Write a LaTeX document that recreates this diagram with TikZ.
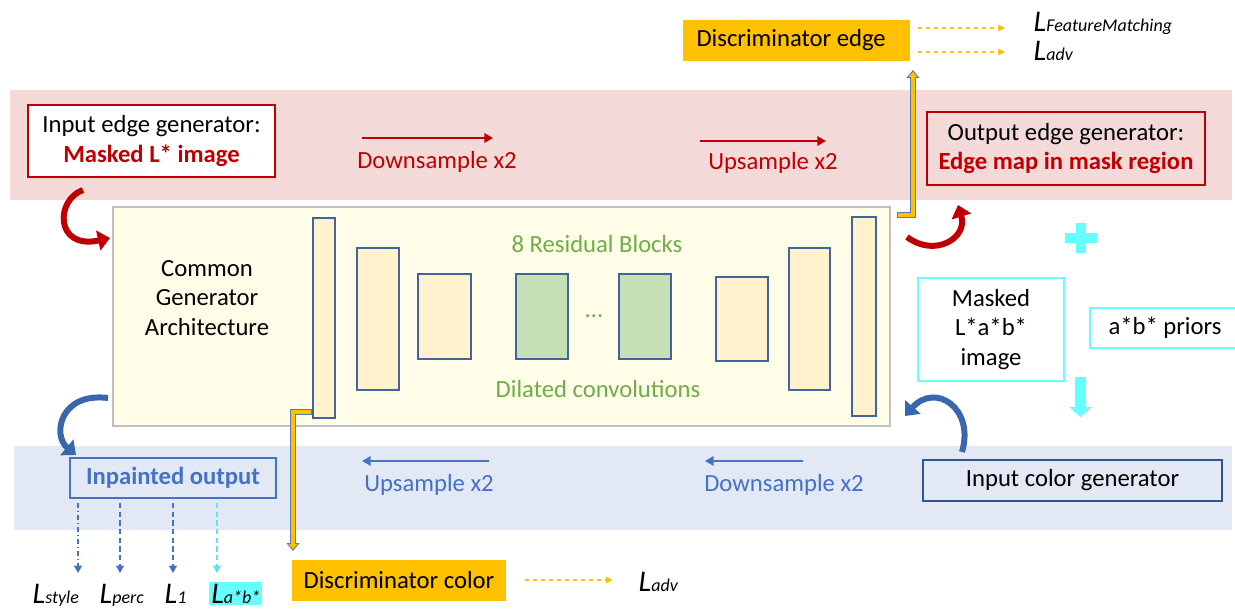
\documentclass[tikz,border=0pt]{standalone}
\usepackage{fontspec}
\setmainfont{Carlito}
\usepackage{tikz}
\usetikzlibrary{arrows.meta, shadows}

\definecolor{bandred}{HTML}{F4D9D9}
\definecolor{bandblue}{HTML}{E2E8F4}
\definecolor{edgered}{HTML}{C00000}
\definecolor{colorblue}{HTML}{4472C4}
\definecolor{darkblue}{HTML}{2F5597}
\definecolor{curveblue}{HTML}{3A66AE}
\definecolor{archfill}{HTML}{FFFDE8}
\definecolor{archline}{HTML}{BFBFBF}
\definecolor{layerfill}{HTML}{FFF2CC}
\definecolor{layerline}{HTML}{41649C}
\definecolor{resfill}{HTML}{C5E0B4}
\definecolor{resgreen}{HTML}{70AD47}
\definecolor{gold}{HTML}{FFC000}
\definecolor{pipeline}{HTML}{5A7AAE}
\definecolor{aqua}{HTML}{66FFFF}

\newcommand{\lossterm}[1]{{\itshape\fontsize{22.5}{24}\selectfont L\fontsize{13.5}{15}\selectfont #1}}

\begin{document}
\begin{tikzpicture}[
    x=0.75pt, y=-0.75pt,
    every node/.style={font=\fontsize{18.5}{22}\selectfont},
    genbox/.style={draw, line width=1.6pt, inner sep=0pt, align=center},
    layer/.style={
        draw=layerline,
        fill=layerfill,
        line width=1pt,
        inner sep=0pt,
        drop shadow={shadow xshift=1pt, shadow yshift=-1pt, opacity=0.3}
    },
    resblock/.style={layer, fill=resfill},
    disc/.style={fill=gold, inner sep=0pt, minimum height=30.75pt},
    bandarrow/.style={line width=2pt, -{Triangle[length=6.5pt, width=7pt]}},
    lossdash/.style={gold, dashed, line width=0.8pt, -{Triangle[length=5pt, width=5pt]}},
    lossline/.style={colorblue, line width=1.1pt, dash pattern=on 4pt off 2.5pt,
        shorten <=3pt, -{Triangle[length=5.5pt, width=6pt]}},
    curvearrow/.style={line width=4.5pt, -{Triangle[length=9pt, width=15pt]}},
    pipeback/.style={pipeline, line width=4.6pt, -{Triangle[length=6pt, width=9.5pt]}},
    pipefront/.style={gold, line width=2.8pt, shorten >=1.3pt, shorten <=0.9pt,
        -{Triangle[length=3.8pt, width=6.2pt]}}
]

\useasboundingbox (0,0) rectangle (1235,610);
\fill[bandred] (10,90) rectangle (1232,200);
\fill[bandblue] (14,446) rectangle (1232,530);

\node[draw=archline, fill=archfill, line width=0.8pt, inner sep=0pt,
      minimum width=582.75pt, minimum height=164.25pt] (arch) at (501.5,316.5) {};
\node[align=center] (common) at (207,298) {Common\\Generator\\Architecture};

\node[layer, minimum width=16.5pt, minimum height=150pt] (enc1) at (324,318) {};
\node[layer, minimum width=31.5pt, minimum height=106.5pt] (enc2) at (378,319) {};
\node[layer, minimum width=39.75pt, minimum height=63.75pt] (enc3) at (444.5,316.5) {};
\node[resblock, minimum width=39pt, minimum height=63.75pt] (res1) at (542,316.5) {};
\node[resblock, minimum width=39pt, minimum height=63.75pt] (res8) at (645,316.5) {};
\node[layer, minimum width=39pt, minimum height=63pt] (dec1) at (742,319) {};
\node[layer, minimum width=30.75pt, minimum height=106.5pt] (dec2) at (809.5,319) {};
\node[layer, minimum width=18pt, minimum height=149.25pt] (dec3) at (864,316.5) {};
\node[text=resgreen] (restitle) at (597,244) {8 Residual Blocks};
\node[text=resgreen] (dots) at (594,316) {...};
\node[text=resgreen] (dilated) at (598,389) {Dilated convolutions};

\node[genbox, draw=edgered, fill=white, minimum width=185.25pt, minimum height=54pt]
    (inedge) at (151.5,141) {Input edge generator:\\\textcolor{edgered}{\bfseries Masked L* image}};
\node[genbox, draw=edgered, minimum width=208.5pt, minimum height=54.75pt]
    (outedge) at (1066,148.5) {Output edge generator:\\\textcolor{edgered}{\bfseries Edge map in mask region}};

\node[text=edgered] (downlbl) at (437,162) {Downsample x2};
\node[text=edgered] (uplbl) at (773,163) {Upsample x2};
\coordinate (down1) at (362,138);
\coordinate (down2) at (493,138);
\coordinate (up1) at (700,141);
\coordinate (up2) at (826,141);
\draw[bandarrow, edgered] (down1) -- (down2);
\draw[bandarrow, edgered] (up1) -- (up2);

\node[text=colorblue] (cuplbl) at (429,485) {Upsample x2};
\node[text=colorblue] (cdownlbl) at (784,485) {Downsample x2};
\coordinate (cup1) at (489,461);
\coordinate (cup2) at (362,461);
\coordinate (cdown1) at (803,461);
\coordinate (cdown2) at (705,461);
\draw[bandarrow, colorblue] (cup1) -- (cup2);
\draw[bandarrow, colorblue] (cdown1) -- (cdown2);

\node[disc, minimum width=170.25pt] (discedge) at (796.5,40.5) {Discriminator edge\hspace*{8pt}};
\node[anchor=base west] (lfm) at (1029,32) {\lossterm{FeatureMatching}};
\node[anchor=base west] (ladvedge) at (1029,61) {\lossterm{adv}};
\coordinate (fmend) at ([xshift=-18pt, yshift=3pt]lfm.base west);
\coordinate (advend) at ([xshift=-18pt, yshift=6.75pt]ladvedge.base west);
\draw[lossdash] ([xshift=6pt]discedge.east |- fmend) -- (fmend);
\draw[lossdash] ([xshift=6pt]discedge.east |- advend) -- (advend);

\node[disc, minimum width=160.5pt] (disccolor) at (399,580) {Discriminator color};
\node[anchor=base west] (ladvcolor) at (634,591) {\lossterm{adv}};
\coordinate (advcolorend) at ([xshift=-16pt, yshift=8.25pt]ladvcolor.base west);
\draw[lossdash] ([xshift=14pt]disccolor.east |- advcolorend) -- (advcolorend);

\coordinate (edgeout) at (897,215);
\coordinate (edgein) at (913,70);
\draw[pipeback] (edgeout) -| (edgein);
\draw[pipefront] (edgeout) -| (edgein);
\coordinate (colorout) at (312,412);
\coordinate (colorin) at (293,551);
\draw[pipeback] (colorout) -| (colorin);
\draw[pipefront] (colorout) -| (colorin);

\node[genbox, draw=colorblue, text=colorblue, font=\fontsize{18.5}{22}\selectfont\bfseries,
      minimum width=154.5pt, minimum height=30pt] (inpaint) at (173,478) {Inpainted output};
\node[genbox, draw=darkblue, minimum width=224.25pt, minimum height=30.75pt]
    (colorgen) at (1072.5,480.5) {Input color generator};

\node[genbox, draw=aqua, fill=white, line width=2pt, minimum width=109.5pt, minimum height=77.25pt]
    (masked) at (991,329.5) {Masked\\L*a*b*\\image};
\node[genbox, draw=aqua, fill=white, line width=2pt, minimum width=112.5pt, minimum height=30pt]
    (priors) at (1165,328) {a*b* priors};
\fill[aqua] (1065,233) rectangle (1097,243);
\fill[aqua] (1076,223) rectangle (1086,253);
\coordinate (labin1) at (1080.5,377);
\coordinate (labin2) at (1080.5,417);
\draw[aqua, line width=8pt, -{Triangle[length=7.5pt, width=16.5pt]}] (labin1) -- (labin2);

\node[anchor=base west] (lstyle) at (28,603) {\lossterm{style}};
\node[anchor=base west] (lperc) at (95,603) {\lossterm{perc}};
\node[anchor=base west] (lone) at (160,603) {\lossterm{1}};
\node[anchor=base west, fill=aqua, inner sep=1.5pt] (lab) at (209,603) {\lossterm{a*b*}};
\coordinate (tostyle) at (78,573);
\coordinate (toperc) at (120,573);
\coordinate (toone) at (173,573);
\coordinate (tolab) at (217,573);
\draw[lossline, dash pattern=on 4pt off 2pt on 1pt off 2pt] (inpaint.south -| tostyle) -- (tostyle);
\draw[lossline] (inpaint.south -| toperc) -- (toperc);
\draw[lossline] (inpaint.south -| toone) -- (toone);
\draw[lossline, aqua!80!colorblue] (inpaint.south -| tolab) -- (tolab);

\coordinate (inedgeout) at (83,190);
\coordinate (archin) at (110,238);
\draw[curvearrow, edgered] (inedgeout) .. controls (55,200) and (55,250) .. (archin);
\coordinate (archedge) at (907,237);
\coordinate (outedgein) at (958,205);
\draw[curvearrow, edgered] (archedge) .. controls (935,258) and (968,238) .. (outedgein);
\coordinate (archcolor) at (108,398);
\coordinate (inpaintin) at (76,455);
\draw[curvearrow, curveblue] (archcolor) .. controls (60,392) and (52,435) .. (inpaintin);
\coordinate (colorgenout) at (962,452);
\coordinate (archback) at (905,416);
\draw[curvearrow, curveblue] (colorgenout) .. controls (975,408) and (935,382) .. (archback);

\end{tikzpicture}
\end{document}
